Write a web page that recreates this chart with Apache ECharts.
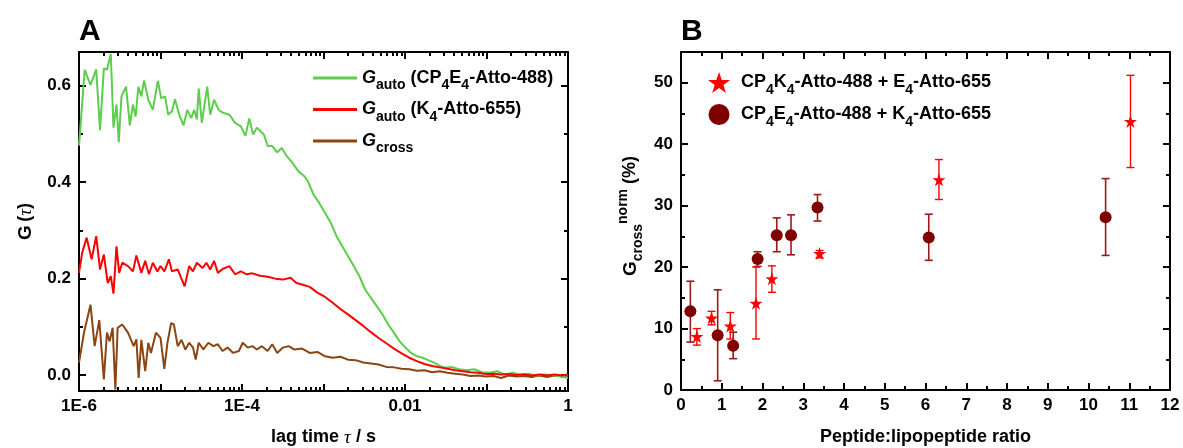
<!DOCTYPE html>
<html>
<head>
<meta charset="utf-8">
<script src="https://cdn.jsdelivr.net/npm/echarts@6/dist/echarts.min.js"></script>
<style>
html,body{margin:0;padding:0;background:#fff;}
#chart{width:1183px;height:448px;}
</style>
</head>
<body>
<div id="chart"></div>
<script>
// ---------------- Panel A data (log10 of lag time in s, G(tau)) ----------------
const logTauAuto488 = [-6.000,-5.930,-5.859,-5.789,-5.742,-5.695,-5.657,-5.610,-5.577,-5.540,
  -5.512,-5.479,-5.423,-5.376,-5.338,-5.305,-5.272,-5.235,-5.202,-5.150,
  -5.094,-5.033,-4.991,-4.944,-4.906,-4.859,-4.822,-4.765,-4.718,-4.671,
  -4.624,-4.587,-4.554,-4.531,-4.493,-4.427,-4.390,-4.343,-4.286,-4.235,
  -4.155,-4.085,-4.014,-3.958,-3.911,-3.864,-3.817,-3.732,-3.685,-3.629,
  -3.568,-3.512,-3.451,-3.380,-3.310,-3.239,-3.192,-3.122,-3.052,-2.981,
  -2.911,-2.840,-2.770,-2.700,-2.629,-2.559,-2.488,-2.418,-2.347,-2.277,
  -2.207,-2.136,-2.066,-1.995,-1.925,-1.854,-1.784,-1.714,-1.643,-1.573,
  -1.502,-1.432,-1.338,-1.244,-1.150,-1.056,-0.962,-0.869,-0.775,-0.681,
  -0.587,-0.493,-0.399,-0.305,-0.211,-0.117,0.000];
const gAuto488 = [0.476,0.633,0.602,0.634,0.508,0.636,0.633,0.666,0.513,0.561,
  0.483,0.578,0.598,0.518,0.561,0.536,0.598,0.578,0.611,0.571,
  0.550,0.610,0.574,0.578,0.540,0.547,0.572,0.537,0.518,0.550,
  0.533,0.550,0.530,0.594,0.523,0.598,0.540,0.571,0.550,0.544,
  0.540,0.523,0.516,0.496,0.532,0.499,0.513,0.499,0.475,0.475,
  0.462,0.471,0.454,0.440,0.423,0.413,0.402,0.374,0.357,0.336,
  0.316,0.288,0.267,0.247,0.226,0.205,0.177,0.160,0.143,0.126,
  0.105,0.088,0.070,0.057,0.046,0.039,0.036,0.031,0.026,0.019,
  0.015,0.017,0.012,0.010,0.012,0.006,0.005,0.008,0.001,0.005,
  0.001,0.003,-0.001,0.001,0.000,-0.002,-0.006];

const logTauAuto655 = [-6.000,-5.962,-5.906,-5.845,-5.789,-5.742,-5.695,-5.648,-5.610,-5.577,
  -5.540,-5.507,-5.469,-5.399,-5.338,-5.296,-5.235,-5.188,-5.141,-5.094,
  -5.038,-5.000,-4.953,-4.897,-4.859,-4.789,-4.704,-4.648,-4.601,-4.554,
  -4.484,-4.437,-4.390,-4.343,-4.296,-4.239,-4.155,-4.085,-4.014,-3.944,
  -3.873,-3.779,-3.685,-3.592,-3.498,-3.404,-3.333,-3.263,-3.169,-3.075,
  -2.981,-2.887,-2.793,-2.700,-2.606,-2.512,-2.418,-2.324,-2.230,-2.136,
  -2.042,-1.948,-1.854,-1.761,-1.667,-1.573,-1.479,-1.385,-1.291,-1.197,
  -1.103,-1.009,-0.915,-0.822,-0.728,-0.634,-0.540,-0.446,-0.352,-0.258,
  -0.164,-0.070,0.000];
const gAuto655 = [0.212,0.253,0.285,0.240,0.288,0.219,0.250,0.191,0.205,0.169,
  0.267,0.212,0.233,0.226,0.215,0.248,0.212,0.237,0.209,0.233,
  0.215,0.226,0.215,0.240,0.215,0.219,0.184,0.226,0.215,0.233,
  0.222,0.233,0.219,0.237,0.212,0.220,0.226,0.209,0.215,0.209,
  0.211,0.206,0.204,0.200,0.198,0.202,0.191,0.188,0.183,0.171,
  0.162,0.150,0.137,0.126,0.114,0.102,0.089,0.077,0.066,0.055,
  0.045,0.036,0.029,0.023,0.019,0.016,0.013,0.010,0.008,0.006,
  0.005,0.002,0.003,0.001,0.002,0.000,0.001,-0.001,0.001,-0.001,
  0.001,-0.001,0.002];

const logTauCross = [-6.000,-5.939,-5.859,-5.808,-5.751,-5.695,-5.657,-5.624,-5.587,-5.554,
  -5.526,-5.469,-5.399,-5.329,-5.296,-5.268,-5.235,-5.188,-5.150,-5.117,
  -5.056,-5.000,-4.953,-4.915,-4.869,-4.836,-4.789,-4.742,-4.695,-4.648,
  -4.601,-4.568,-4.531,-4.474,-4.413,-4.352,-4.296,-4.239,-4.178,-4.108,
  -4.038,-3.991,-3.930,-3.873,-3.817,-3.756,-3.685,-3.629,-3.568,-3.498,
  -3.427,-3.357,-3.263,-3.169,-3.075,-2.981,-2.887,-2.793,-2.700,-2.606,
  -2.512,-2.418,-2.324,-2.230,-2.136,-2.042,-1.948,-1.854,-1.761,-1.667,
  -1.573,-1.479,-1.385,-1.291,-1.197,-1.103,-1.009,-0.915,-0.822,-0.728,
  -0.634,-0.540,-0.446,-0.352,-0.258,-0.164,-0.070,0.000];
const gCross = [0.026,0.088,0.146,0.060,0.114,-0.009,0.088,0.070,0.098,-0.030,
  0.098,0.105,0.088,0.060,0.074,-0.006,0.073,0.008,0.067,0.046,
  0.088,0.077,0.013,0.067,0.108,0.105,0.060,0.073,0.053,0.067,
  0.057,0.032,0.067,0.053,0.067,0.060,0.064,0.050,0.057,0.046,
  0.050,0.067,0.057,0.060,0.053,0.060,0.050,0.064,0.046,0.057,
  0.060,0.053,0.055,0.046,0.048,0.039,0.036,0.038,0.032,0.031,
  0.026,0.024,0.022,0.017,0.016,0.013,0.012,0.009,0.010,0.006,
  0.008,0.005,0.003,0.001,-0.002,-0.001,-0.003,-0.002,-0.006,-0.001,
  -0.003,-0.002,-0.004,-0.001,-0.004,-0.001,-0.003,-0.001];

const seriesNamesA = ['Gauto (CP4E4-Atto-488)', 'Gauto (K4-Atto-655)', 'Gcross'];
const xTickValuesA = [1e-6, 1e-4, 1e-2, 1];
const xTickLabelsA = ['1E-6', '1E-4', '0.01', '1'];
const yTickValuesA = [0, 0.2, 0.4, 0.6];
const yTickLabelsA = ['0.0', '0.2', '0.4', '0.6'];
const yMinorValuesA = [0.1, 0.3, 0.5];

// ---------------- Panel B data ----------------
const circleX    = [0.23, 0.90, 1.28, 1.88, 2.35, 2.70, 3.35, 6.08, 10.42];
const circleY    = [12.8, 8.9, 7.2, 21.3, 25.2, 25.2, 29.7, 24.8, 28.1];
const circleLow  = [7.8, 1.5, 5.1, 20.1, 22.5, 22.0, 27.5, 21.1, 21.9];
const circleHigh = [17.7, 16.3, 9.4, 22.5, 28.0, 28.5, 31.8, 28.6, 34.4];
const starX      = [0.39, 0.75, 1.21, 1.84, 2.23, 3.40, 6.33, 11.03];
const starY      = [8.7, 11.7, 10.4, 14.1, 18.1, 22.2, 34.2, 43.7];
const starLow    = [7.3, 10.6, 8.3, 8.3, 15.9, 21.5, 31.0, 36.2];
const starHigh   = [10.0, 12.8, 12.6, 20.0, 20.2, 22.7, 37.5, 51.2];
const seriesNamesB = ['CP4K4-Atto-488 + E4-Atto-655', 'CP4E4-Atto-488 + K4-Atto-655'];
const yTickValuesB = [0, 10, 20, 30, 40, 50];
const yMinorValuesB = [5, 15, 25, 35, 45];

// ---------------- helpers ----------------
const FONT = 'Liberation Sans';
const BLACK = '#000';
const decadesA = [];
const minorsA = [];
for (let d = -6; d <= 0; d++) {
  decadesA.push(Math.pow(10, d));
  if (d < 0) for (let k = 2; k <= 9; k++) minorsA.push(k * Math.pow(10, d));
}
const toPairs = (lx, ly) => lx.map((l, i) => [Math.pow(10, l), ly[i]]);

const tickLabelStyle = { color: BLACK, fontFamily: FONT, fontSize: 17, fontWeight: 'bold' };
const lineSt = { color: BLACK, width: 2 };

function ax(o) {
  const base = {
    axisLine: { show: false, onZero: false, lineStyle: lineSt },
    axisTick: { show: false },
    axisLabel: { show: false },
    splitLine: { show: false },
    minorTick: { show: false },
    minorSplitLine: { show: false }
  };
  return Object.assign(base, o);
}
function ticks(values, len) {
  return { show: true, inside: true, length: len, lineStyle: lineSt, customValues: values };
}

const richBase = {
  g: { fontFamily: FONT, fontSize: 18, fontWeight: 'bold', fontStyle: 'italic', color: BLACK },
  gu: { fontFamily: FONT, fontSize: 19, fontWeight: 'bold', color: BLACK },
  t: { fontFamily: FONT, fontSize: 18, fontWeight: 'bold', color: BLACK },
  s: { fontFamily: FONT, fontSize: 14, fontWeight: 'bold', verticalAlign: 'top', padding: [15, 0, 0, 0], color: BLACK },
  p: { fontFamily: FONT, fontSize: 14, fontWeight: 'bold', verticalAlign: 'top', color: BLACK },
  tau: { fontFamily: 'Liberation Serif', fontSize: 19, fontStyle: 'italic', color: BLACK }
};
const legendTextA = {};
legendTextA[seriesNamesA[0]] = '{g|G}{s|auto}{t| (CP}{s|4}{t|E}{s|4}{t|-Atto-488)}';
legendTextA[seriesNamesA[1]] = '{g|G}{s|auto}{t| (K}{s|4}{t|-Atto-655)}';
legendTextA[seriesNamesA[2]] = '{g|G}{s|cross}';
const legendTextB = {};
legendTextB[seriesNamesB[0]] = '{t|CP}{s|4}{t|K}{s|4}{t|-Atto-488 + E}{s|4}{t|-Atto-655}';
legendTextB[seriesNamesB[1]] = '{t|CP}{s|4}{t|E}{s|4}{t|-Atto-488 + K}{s|4}{t|-Atto-655}';

const STAR = 'path://M50,0 L61.8,34.5 L97.6,34.5 L68.8,55.9 L79.4,90.5 L50,69.1 L20.6,90.5 L31.2,55.9 L2.4,34.5 L38.2,34.5 Z';

function errorBarRenderer(color, width, capHalf) {
  return function (params, api) {
    const x = api.value(0);
    const top = api.coord([x, api.value(2)]);
    const bot = api.coord([x, api.value(1)]);
    const style = { stroke: color, lineWidth: width };
    return {
      type: 'group',
      children: [
        { type: 'line', shape: { x1: top[0], y1: top[1], x2: bot[0], y2: bot[1] }, style: style },
        { type: 'line', shape: { x1: top[0] - capHalf, y1: top[1], x2: top[0] + capHalf, y2: top[1] }, style: style },
        { type: 'line', shape: { x1: bot[0] - capHalf, y1: bot[1], x2: bot[0] + capHalf, y2: bot[1] }, style: style }
      ]
    };
  };
}

const GREEN = '#5ccd4c', RED = '#ff0000', BROWN = '#8b4513', MAROON = '#800000', MAROON_ERR = '#9a1a1a';

const option = {
  animation: false,
  backgroundColor: '#fff',
  title: [
    { text: 'A', left: 79, top: 17, padding: 0, textStyle: { fontFamily: FONT, fontSize: 30, fontWeight: 'bold', color: BLACK } },
    { text: 'B', left: 681, top: 17, padding: 0, textStyle: { fontFamily: FONT, fontSize: 30, fontWeight: 'bold', color: BLACK } }
  ],
  grid: [
    { left: 79, top: 52, width: 489, height: 339, outerBoundsMode: 'none', containLabel: false },
    { left: 681, top: 52, width: 489, height: 338, outerBoundsMode: 'none', containLabel: false }
  ],
  legend: [
    {
      orient: 'vertical', left: 308, top: 64, itemWidth: 44, itemHeight: 3, itemGap: 8,
      icon: 'rect', data: seriesNamesA,
      formatter: name => legendTextA[name],
      textStyle: { rich: richBase }
    },
    {
      orient: 'vertical', left: 703, top: 67, itemWidth: 34, itemHeight: 21, itemGap: 7,
      data: seriesNamesB, symbolKeepAspect: true,
      formatter: name => legendTextB[name],
      textStyle: { rich: richBase }
    }
  ],
  xAxis: [
    ax({
      gridIndex: 0, type: 'log', logBase: 10, min: 1e-6, max: 1, position: 'bottom',
      axisLine: { show: true, onZero: false, lineStyle: lineSt },
      axisTick: ticks(decadesA, 7),
      axisLabel: Object.assign({ show: true, margin: 7, customValues: xTickValuesA,
        formatter: v => {
          let best = 0;
          xTickValuesA.forEach((t, i) => { if (Math.abs(Math.log10(t) - Math.log10(v)) < Math.abs(Math.log10(xTickValuesA[best]) - Math.log10(v))) best = i; });
          return xTickLabelsA[best];
        } }, tickLabelStyle),
      name: '{t|lag time }{tau|τ}{t| / s}', nameLocation: 'middle', nameGap: 37,
      nameTextStyle: { rich: richBase }
    }),
    ax({ gridIndex: 0, type: 'log', logBase: 10, min: 1e-6, max: 1, position: 'bottom', axisTick: ticks(minorsA, 4) }),
    ax({ gridIndex: 0, type: 'log', logBase: 10, min: 1e-6, max: 1, position: 'top',
      axisLine: { show: true, onZero: false, lineStyle: lineSt }, axisTick: ticks(decadesA, 7) }),
    ax({ gridIndex: 0, type: 'log', logBase: 10, min: 1e-6, max: 1, position: 'top', axisTick: ticks(minorsA, 4) }),
    ax({
      gridIndex: 1, type: 'value', min: 0, max: 12, interval: 1, position: 'bottom',
      axisLine: { show: true, onZero: false, lineStyle: lineSt },
      axisTick: { show: true, inside: true, length: 7, lineStyle: lineSt },
      minorTick: { show: true, splitNumber: 2, length: 4, lineStyle: lineSt },
      axisLabel: Object.assign({ show: true, margin: 7 }, tickLabelStyle),
      name: '{t|Peptide:lipopeptide ratio}', nameLocation: 'middle', nameGap: 38,
      nameTextStyle: { rich: richBase }
    }),
    ax({
      gridIndex: 1, type: 'value', min: 0, max: 12, interval: 1, position: 'top',
      axisLine: { show: true, onZero: false, lineStyle: lineSt },
      axisTick: { show: true, inside: true, length: 7, lineStyle: lineSt },
      minorTick: { show: true, splitNumber: 2, length: 4, lineStyle: lineSt }
    })
  ],
  yAxis: [
    ax({
      gridIndex: 0, type: 'value', min: -0.033, max: 0.67, position: 'left',
      axisLine: { show: true, onZero: false, lineStyle: lineSt },
      axisTick: ticks(yTickValuesA, 7),
      axisLabel: Object.assign({ show: true, margin: 8, customValues: yTickValuesA,
        formatter: v => yTickLabelsA[yTickValuesA.findIndex(t => Math.abs(t - v) < 1e-6)] }, tickLabelStyle),
      name: '{gu|G} {t|(}{tau|τ}{t|)}', nameLocation: 'middle', nameGap: 44,
      nameTextStyle: { rich: richBase }
    }),
    ax({ gridIndex: 0, type: 'value', min: -0.033, max: 0.67, position: 'left', axisTick: ticks(yMinorValuesA, 4) }),
    ax({ gridIndex: 0, type: 'value', min: -0.033, max: 0.67, position: 'right',
      axisLine: { show: true, onZero: false, lineStyle: lineSt }, axisTick: ticks(yTickValuesA, 7) }),
    ax({ gridIndex: 0, type: 'value', min: -0.033, max: 0.67, position: 'right', axisTick: ticks(yMinorValuesA, 4) }),
    ax({
      gridIndex: 1, type: 'value', min: 0, max: 55, position: 'left',
      axisLine: { show: true, onZero: false, lineStyle: lineSt },
      axisTick: ticks(yTickValuesB, 7),
      axisLabel: Object.assign({ show: true, margin: 8, customValues: yTickValuesB }, tickLabelStyle),
      name: '{gu|G}{s|cross}{p|norm}{t| (%)}', nameLocation: 'middle', nameGap: 36,
      nameTextStyle: { rich: richBase, padding: [0, 0, 0, 10] }
    }),
    ax({ gridIndex: 1, type: 'value', min: 0, max: 55, position: 'left', axisTick: ticks(yMinorValuesB, 4) }),
    ax({ gridIndex: 1, type: 'value', min: 0, max: 55, position: 'right',
      axisLine: { show: true, onZero: false, lineStyle: lineSt }, axisTick: ticks(yTickValuesB, 7) }),
    ax({ gridIndex: 1, type: 'value', min: 0, max: 55, position: 'right', axisTick: ticks(yMinorValuesB, 4) })
  ],
  series: [
    { name: seriesNamesA[0], type: 'line', xAxisIndex: 0, yAxisIndex: 0, data: toPairs(logTauAuto488, gAuto488),
      showSymbol: false, symbol: 'none', color: GREEN, lineStyle: { color: GREEN, width: 2 }, z: 3 },
    { name: seriesNamesA[1], type: 'line', xAxisIndex: 0, yAxisIndex: 0, data: toPairs(logTauAuto655, gAuto655),
      showSymbol: false, symbol: 'none', color: RED, lineStyle: { color: RED, width: 2 }, z: 4 },
    { name: seriesNamesA[2], type: 'line', xAxisIndex: 0, yAxisIndex: 0, data: toPairs(logTauCross, gCross),
      showSymbol: false, symbol: 'none', color: BROWN, lineStyle: { color: BROWN, width: 2 }, z: 2 },
    { type: 'custom', xAxisIndex: 4, yAxisIndex: 4, renderItem: errorBarRenderer(MAROON_ERR, 1.6, 4),
      encode: { x: 0, y: [1, 2] }, data: circleX.map((x, i) => [x, circleLow[i], circleHigh[i]]), z: 2, silent: true },
    { type: 'custom', xAxisIndex: 4, yAxisIndex: 4, renderItem: errorBarRenderer(RED, 1.4, 4),
      encode: { x: 0, y: [1, 2] }, data: starX.map((x, i) => [x, starLow[i], starHigh[i]]), z: 2, silent: true },
    { name: seriesNamesB[1], type: 'scatter', xAxisIndex: 4, yAxisIndex: 4, symbol: 'circle', symbolSize: 12,
      data: circleX.map((x, i) => [x, circleY[i]]), itemStyle: { color: MAROON, opacity: 1 }, color: MAROON, z: 4 },
    { name: seriesNamesB[0], type: 'scatter', xAxisIndex: 4, yAxisIndex: 4, symbol: STAR, symbolSize: 13,
      data: starX.map((x, i) => [x, starY[i]]), itemStyle: { color: RED, opacity: 1 }, color: RED, z: 5 }
  ]
};

const chart = echarts.init(document.getElementById('chart'), null, { renderer: 'canvas' });
chart.setOption(option);
</script>
</body>
</html>
